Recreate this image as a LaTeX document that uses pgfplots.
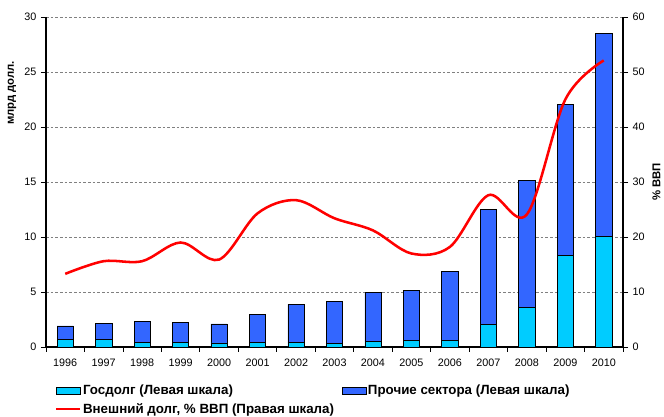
\documentclass[border=0pt]{standalone}
\usepackage{pgfplots}
\pgfplotsset{compat=1.18}
\usepackage{fontspec}
\setmainfont{Liberation Sans}
\definecolor{gov}{RGB}{0,204,255}
\definecolor{oth}{RGB}{51,102,255}
\definecolor{gridg}{RGB}{128,128,128}
\pgfplotstableread{
x gov oth
0 0.67 1.24
1 0.70 1.45
2 0.40 1.96
3 0.40 1.82
4 0.37 1.73
5 0.38 2.59
6 0.38 3.50
7 0.36 3.82
8 0.48 4.46
9 0.60 4.52
10 0.60 6.25
11 2.03 10.45
12 3.58 11.57
13 8.36 13.68
14 10.06 18.44
}\bars
\pgfplotstableread{
x pct
0 13.3
1 15.6
2 15.6
3 19.0
4 15.9
5 24.3
6 26.7
7 23.4
8 21.2
9 17.0
10 18.2
11 27.6
12 24.1
13 45.0
14 52.1
}\line
\begin{document}
\begin{tikzpicture}
\pgfplotsset{
  every axis/.append style={
    scale only axis, width=432.75pt, height=247.5pt,
    xmin=-0.5, xmax=14.5,
    tick align=outside, major tick length=3.75pt,
    tick style={black, line width=0.6pt},
    axis line style={black, line width=0.8pt},
    /pgf/number format/assume math mode=true,
    tick label style={font=\fontsize{8.1}{9}\selectfont},
  }
}
\begin{axis}[
  axis x line*=bottom, axis y line*=left,
  ymin=0, ymax=30, ytick={0,5,...,30},
  ymajorgrids, grid style={gridg, dash pattern=on 2pt off 1.5pt, line width=0.7pt},
  xtick={-0.5,0.5,...,14.5},
  x tick label as interval,
  xticklabels={1996,1997,1998,1999,2000,2001,2002,2003,2004,2005,2006,2007,2008,2009,2010},
  xticklabel style={yshift=-2pt},
  ylabel={млрд долл.},
  every axis y label/.style={at={(-0.059,0.77)}, rotate=90, anchor=center, font=\bfseries\fontsize{8.5}{9}\selectfont},
  ybar stacked, bar width=12.2pt,
  legend columns=2, legend cell align=left,
  legend style={draw=none, fill=none, at={(0.015,-0.11)}, anchor=north west,
    font=\bfseries\fontsize{10}{11}\selectfont, column sep=0pt, row sep=3pt,
    inner sep=0pt,
    nodes={inner xsep=1.2pt, inner ysep=1pt},
    /tikz/every odd column/.append style={column sep=0pt},
    /tikz/every even column/.append style={column sep=4.5pt}},
  area legend,
  legend image code/.code={\draw[#1, draw=black, line width=0.5pt] (0pt,-2.6pt) rectangle (18pt,2.6pt);},
]
\addplot[fill=gov, draw=black, line width=0.5pt] table[x=x,y=gov]{\bars};
\addlegendentry{Госдолг (Левая шкала)}
\addplot[fill=oth, draw=black, line width=0.5pt] table[x=x,y=oth]{\bars};
\addlegendentry{Прочие сектора (Левая шкала)}
\addlegendimage{legend image code/.code={\draw[red, line width=1.9pt] (0pt,0pt) -- (18pt,0pt);}}
\addlegendentry{Внешний долг, \% ВВП (Правая шкала)}
\end{axis}
\begin{axis}[
  axis x line=none, axis y line*=right,
  ymin=0, ymax=60, ytick={0,10,...,60},
  ylabel={\% ВВП},
  every axis y label/.style={at={(1.058,0.5)}, rotate=90, anchor=center, font=\bfseries\fontsize{8.5}{9}\selectfont},
]
\addplot[red, line width=1.9pt, smooth, tension=0.55, mark=none] table[x=x,y=pct]{\line};
\end{axis}
\pgfresetboundingbox
\path[use as bounding box] ([xshift=-34.5pt,yshift=-52.5pt]current axis.south west) rectangle ([xshift=30.75pt,yshift=12.75pt]current axis.north east);
\end{tikzpicture}
\end{document}
